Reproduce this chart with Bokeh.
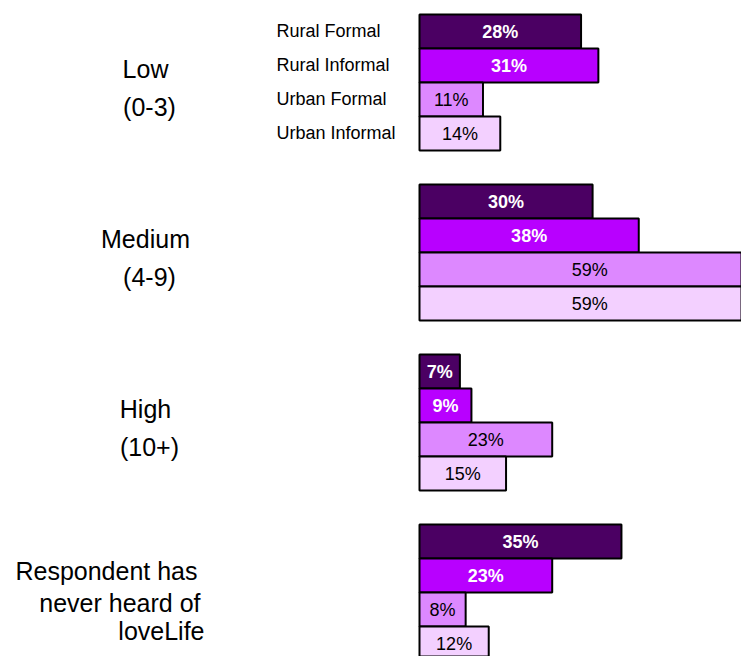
from bokeh.plotting import figure
from bokeh.models import ColumnDataSource, Range1d
from bokeh.core.properties import value
from bokeh.embed import file_html
from bokeh.resources import INLINE

# ---- data ----
group_lines = [["Low", "(0-3)"], ["Medium", "(4-9)"], ["High", "(10+)"],
               ["Respondent has", "never heard of", "loveLife"]]
series = ["Rural Formal", "Rural Informal", "Urban Formal", "Urban Informal"]
rural_formal = [28, 30, 7, 35]
rural_informal = [31, 38, 9, 23]
urban_formal = [11, 59, 23, 8]
urban_informal = [14, 59, 15, 12]
series_values = [rural_formal, rural_informal, urban_formal, urban_informal]

# ---- styles / layout ----
colors = ["#4B0063", "#B800FF", "#DD88FF", "#F3D0FF"]
FONT = "Liberation Sans"
W, H = 741, 656
PX_X = 5.77          # pixels per percent
X0 = 419             # frame px where 0% sits
PX_Y = 34.0          # pixels per bar slot
Y0 = 14              # frame px where first bar top sits
PITCH = 5            # slots per group (4 bars + gap)

x_start = -X0 / PX_X
y_top = -Y0 / PX_Y

p = figure(width=W, height=H, output_backend="svg", toolbar_location=None,
           x_range=Range1d(x_start, x_start + W / PX_X),
           y_range=Range1d(y_top + H / PX_Y, y_top),
           x_axis_type=None, y_axis_type=None, min_border=0)
p.outline_line_color = None
p.grid.visible = False
p.background_fill_color = "white"
p.border_fill_color = "white"

ys, rights, cols, labels, sidx = [], [], [], [], []
for g in range(4):
    for s in range(4):
        v = series_values[s][g]
        ys.append(g * PITCH + s + 0.5)
        rights.append(v)
        cols.append(colors[s])
        labels.append(f"{v}%")
        sidx.append(s)
src = ColumnDataSource(dict(y=ys, right=rights, color=cols, label=labels,
                            mid=[r / 2 for r in rights], s=sidx))
p.hbar(y="y", left=0, right="right", height=1, source=src,
       fill_color="color", line_color="black", line_width=2)

dark = ColumnDataSource({k: [v for v, s in zip(vals, sidx) if s < 2]
                         for k, vals in src.data.items()})
light = ColumnDataSource({k: [v for v, s in zip(vals, sidx) if s >= 2]
                          for k, vals in src.data.items()})
p.text(x="mid", y="y", text="label", source=dark, text_align="center",
       text_baseline="middle", text_color="white", text_font=value(FONT),
       text_font_size="18px", text_font_style="bold")
p.text(x="mid", y="y", text="label", source=light, text_align="center",
       text_baseline="middle", text_color="black", text_font=value(FONT),
       text_font_size="18px")

# series names beside first group
def xpx(px):
    return (px - X0) / PX_X

p.text(x=[xpx(276)] * 4, y=[s + 0.5 - 1 / PX_Y for s in range(4)], text=series,
       text_align="left", text_baseline="middle", text_color="black",
       text_font=value(FONT), text_font_size="18px")

# group labels
gx, gy, gt = [], [], []
offs2 = [-14, 24]
cx2 = [145, 149]
for g in range(3):
    c = g * PITCH + 2
    for i, t in enumerate(group_lines[g]):
        gx.append(xpx(cx2[i]))
        gy.append(c + offs2[i] / PX_Y)
        gt.append(t)
p.text(x=gx, y=gy, text=gt, text_align="center", text_baseline="middle",
       text_color="black", text_font=value(FONT), text_font_size="25px")

c = 3 * PITCH + 2
offs3 = [-22, 10, 38]
rx3 = [197, 200, 204]
p.text(x=[xpx(r) for r in rx3], y=[c + o / PX_Y for o in offs3],
       text=group_lines[3], text_align="right", text_baseline="middle",
       text_color="black", text_font=value(FONT), text_font_size="25px")

open("out.html", "w").write(file_html(p, INLINE))
